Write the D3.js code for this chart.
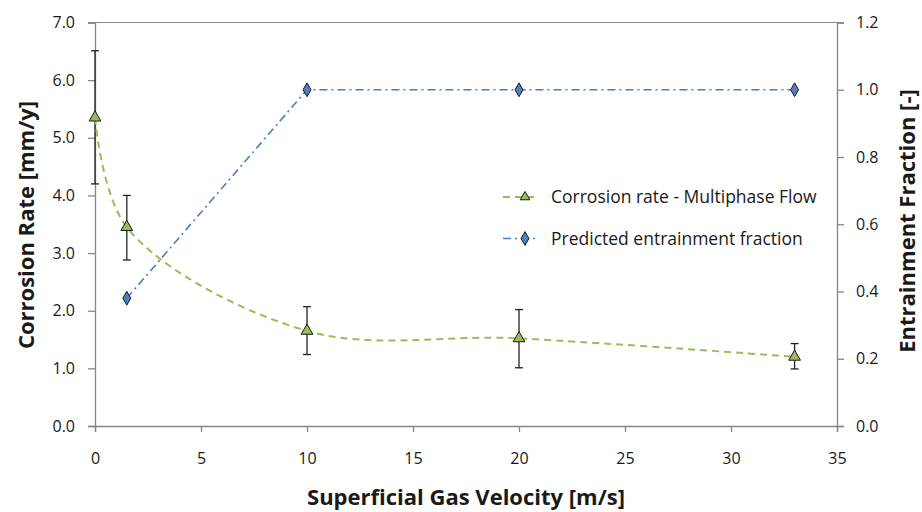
<!DOCTYPE html>
<html>
<head>
<meta charset="utf-8">
<script src="https://cdn.jsdelivr.net/npm/d3@7"></script>
<style>
  body { margin: 0; background: #fff; }
  text { font-family: "Open Sans", "Noto Sans", sans-serif; fill: #1a1a1a; }
</style>
</head>
<body>
<div id="chart"></div>
<script>
// data
const velocity = [0, 1.5, 10, 20, 33];
const corrosionRate = [5.35, 3.45, 1.65, 1.52, 1.2];
const corrosionLow = [4.2, 2.88, 1.24, 1.01, 0.99];
const corrosionHigh = [6.51, 4.0, 2.07, 2.02, 1.43];
const entrainVelocity = [1.5, 10, 20, 33];
const entrainFraction = [0.38, 1.0, 1.0, 1.0];
const xTicks = [0, 5, 10, 15, 20, 25, 30, 35];
const yLeftTicks = [0, 1, 2, 3, 4, 5, 6, 7];
const yRightTicks = [0, 0.2, 0.4, 0.6, 0.8, 1.0, 1.2];
const seriesNames = ["Corrosion rate - Multiphase Flow", "Predicted entrainment fraction"];

const W = 922, H = 512;
const margin = { top: 22.5, right: 85, bottom: 86, left: 95 };
const width = W - margin.left - margin.right,
  height = H - margin.top - margin.bottom;

const green = "#9bbb59", blue = "#4a7ebb", axisCol = "#868686";

const svg = d3.select("#chart").append("svg")
  .attr("width", W).attr("height", H)
  .append("g")
  .attr("transform", "translate(" + margin.left + "," + margin.top + ")");

const x = d3.scaleLinear().domain([0, 35]).range([0, width]);
const y = d3.scaleLinear().domain([0, 7]).range([height, 0]);
const y2 = d3.scaleLinear().domain([0, 1.2]).range([height, 0]);

// frame: top border
svg.append("line")
  .attr("x1", -7).attr("x2", width).attr("y1", 0).attr("y2", 0)
  .attr("stroke", axisCol).attr("stroke-width", 1);

// axes
const xAxis = svg.append("g")
  .attr("transform", "translate(0," + height + ")")
  .call(d3.axisBottom(x).tickValues(xTicks).tickSize(6).tickPadding(21).tickFormat(d3.format("d")));
const yAxis = svg.append("g")
  .call(d3.axisLeft(y).tickValues(yLeftTicks).tickSize(7).tickPadding(13).tickFormat(d3.format(".1f")));
const y2Axis = svg.append("g")
  .attr("transform", "translate(" + width + ",0)")
  .call(d3.axisRight(y2).tickValues(yRightTicks).tickSize(7).tickPadding(12).tickFormat(d3.format(".1f")));

[xAxis, yAxis, y2Axis].forEach((a) => {
  a.select(".domain").attr("stroke", axisCol).attr("stroke-width", 1.3);
  a.selectAll(".tick line").attr("stroke", axisCol).attr("stroke-width", 1.3);
  a.selectAll(".tick text").style("font-size", "16px").attr("fill", "#1a1a1a");
});

// error bars
const err = velocity.map((v, i) => ({ v: v, lo: corrosionLow[i], hi: corrosionHigh[i] }));
const eb = svg.selectAll(".err").data(err).enter().append("g");
eb.append("line")
  .attr("x1", (d) => x(d.v)).attr("x2", (d) => x(d.v))
  .attr("y1", (d) => y(d.lo)).attr("y2", (d) => y(d.hi))
  .attr("stroke", "#222").attr("stroke-width", 1.3);
["lo", "hi"].forEach((k) => {
  eb.append("line")
    .attr("x1", (d) => x(d.v) - 4).attr("x2", (d) => x(d.v) + 4)
    .attr("y1", (d) => y(d[k])).attr("y2", (d) => y(d[k]))
    .attr("stroke", "#222").attr("stroke-width", 1.3);
});

// corrosion smoothed dashed line
const corrData = velocity.map((v, i) => ({ v: v, r: corrosionRate[i] }));
svg.append("path")
  .datum(corrData)
  .attr("fill", "none")
  .attr("stroke", green)
  .attr("stroke-width", 2)
  .attr("stroke-dasharray", "7,5")
  .attr("d", d3.line().curve(d3.curveCatmullRom.alpha(0.5))
    .x((d) => x(d.v)).y((d) => y(d.r)));

// entrainment dash-dot line
const entData = entrainVelocity.map((v, i) => ({ v: v, f: entrainFraction[i] }));
svg.append("path")
  .datum(entData)
  .attr("fill", "none")
  .attr("stroke", blue)
  .attr("stroke-width", 1.6)
  .attr("stroke-dasharray", "8,4,2,4")
  .attr("d", d3.line().x((d) => x(d.v)).y((d) => y2(d.f)));

const tri = d3.symbol().type(d3.symbolTriangle).size(60);
const dia = d3.symbol().type(d3.symbolDiamond).size(55);

svg.selectAll(".tri").data(corrData).enter().append("path")
  .attr("d", tri)
  .attr("transform", (d) => "translate(" + x(d.v) + "," + y(d.r) + ")")
  .attr("fill", green).attr("stroke", "#1a1a1a").attr("stroke-width", 1);

svg.selectAll(".dia").data(entData).enter().append("path")
  .attr("d", dia)
  .attr("transform", (d) => "translate(" + x(d.v) + "," + y2(d.f) + ")")
  .attr("fill", "#4f81bd").attr("stroke", "#1a1a1a").attr("stroke-width", 1);

// legend
const leg = svg.append("g").attr("transform", "translate(" + (503 - margin.left) + "," + (197 - margin.top) + ")");
const rows = leg.selectAll("g").data(seriesNames).enter().append("g")
  .attr("transform", (d, i) => "translate(0," + i * 41.5 + ")");
rows.append("line")
  .attr("x1", 0).attr("x2", 36).attr("y1", 0).attr("y2", 0)
  .attr("stroke", (d, i) => (i === 0 ? green : blue))
  .attr("stroke-width", (d, i) => (i === 0 ? 2 : 1.6))
  .attr("stroke-dasharray", (d, i) => (i === 0 ? "7,5" : "8,4,2,4"));
rows.append("path")
  .attr("d", (d, i) => (i === 0 ? d3.symbol().type(d3.symbolTriangle).size(40)() : dia()))
  .attr("transform", "translate(22,0)")
  .attr("fill", (d, i) => (i === 0 ? green : "#4f81bd"))
  .attr("stroke", "#1a1a1a").attr("stroke-width", 1);
rows.append("text")
  .attr("x", 48).attr("y", 0).attr("dy", "0.35em")
  .style("font-size", "17.5px")
  .text((d) => d);

// axis titles
svg.append("text")
  .attr("transform", "translate(" + (26 - margin.left) + "," + (225 - margin.top) + ") rotate(-90)")
  .attr("text-anchor", "middle").attr("dy", "0.35em")
  .style("font-size", "22px").style("font-weight", "bold")
  .text("Corrosion Rate [mm/y]");

svg.append("text")
  .attr("transform", "translate(" + (907 - margin.left) + "," + (221 - margin.top) + ") rotate(-90)")
  .attr("text-anchor", "middle").attr("dy", "0.35em")
  .style("font-size", "22px").style("font-weight", "bold")
  .text("Entrainment Fraction [-]");

svg.append("text")
  .attr("x", 466 - margin.left).attr("y", 497 - margin.top).attr("dy", "0.35em")
  .attr("text-anchor", "middle")
  .style("font-size", "22px").style("font-weight", "bold")
  .text("Superficial Gas Velocity [m/s]");
</script>
</body>
</html>
